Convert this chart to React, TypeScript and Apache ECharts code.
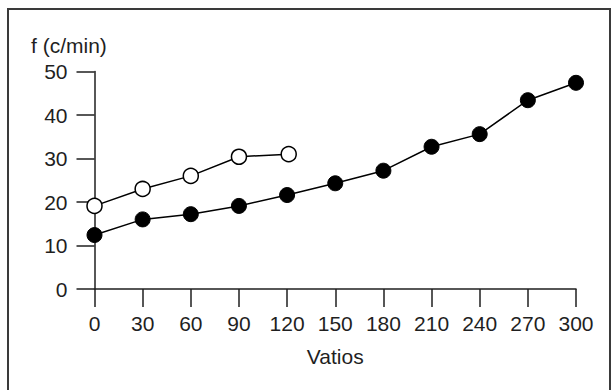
import React, { useEffect, useRef } from "react";
import * as echarts from "echarts";

const watts = [0, 30, 60, 90, 120, 150, 180, 210, 240, 270, 300];
const filledValues = [12.4, 16.0, 17.2, 19.1, 21.6, 24.3, 27.2, 32.7, 35.6, 43.4, 47.4];
const openWatts = [0, 30, 60, 90, 121];
const openValues = [19.1, 23.0, 26.0, 30.4, 31.0];
const yTitle = "f (c/min)";
const xTitle = "Vatios";

const FONT = "Liberation Sans";
const INK = "#1f1f1f";
const FS = 21;

export default function App() {
  const ref = useRef<HTMLDivElement>(null);
  useEffect(() => {
    if (!ref.current) return;
    const chart = echarts.init(ref.current, null, { renderer: "svg" });
    chart.setOption({
      animation: false,
      backgroundColor: "#ffffff",
      title: {
        text: yTitle,
        left: 31,
        top: 35,
        padding: 0,
        textStyle: { fontFamily: FONT, fontSize: FS, fontWeight: "normal", color: INK },
      },
      graphic: [
        {
          type: "rect",
          shape: { x: 8, y: 9, width: 602, height: 420 },
          style: { fill: "none", stroke: "#3a3a3a", lineWidth: 2 },
          silent: true,
        },
      ],
      grid: { left: 94.5, right: 37, top: 71.5, bottom: 101, containLabel: false },
      xAxis: {
        type: "value",
        min: 0,
        max: 300,
        interval: 30,
        name: xTitle,
        nameLocation: "middle",
        nameGap: 57,
        nameTextStyle: { fontFamily: FONT, fontSize: FS, color: INK },
        axisLine: { show: true, lineStyle: { color: INK, width: 1.5 } },
        axisTick: { show: true, inside: false, length: 18, lineStyle: { color: INK, width: 1.5 } },
        axisLabel: { margin: 24, fontFamily: FONT, fontSize: FS, color: INK },
        splitLine: { show: false },
      },
      yAxis: {
        type: "value",
        min: 0,
        max: 50,
        interval: 10,
        axisLine: { show: true, lineStyle: { color: INK, width: 1.5 } },
        axisTick: { show: true, inside: false, length: 18, lineStyle: { color: INK, width: 1.5 } },
        axisLabel: { margin: 27, fontFamily: FONT, fontSize: FS, color: INK },
        splitLine: { show: false },
      },
      series: [
        {
          type: "line",
          data: watts.map((w, i) => [w, filledValues[i]]),
          symbol: "circle",
          symbolSize: 15,
          showAllSymbol: true,
          lineStyle: { color: "#000", width: 1.5 },
          itemStyle: { color: "#000", borderColor: "#000", borderWidth: 1 },
          z: 3,
        },
        {
          type: "line",
          data: openWatts.map((w, i) => [w, openValues[i]]),
          symbol: "circle",
          symbolSize: 15,
          showAllSymbol: true,
          lineStyle: { color: "#000", width: 1.5 },
          itemStyle: { color: "#fff", borderColor: "#000", borderWidth: 1.5 },
          z: 4,
        },
      ],
    });
    return () => chart.dispose();
  }, []);
  return (
    <div
      ref={ref}
      style={{ position: "absolute", left: 0, top: 0, width: 613, height: 390 }}
    />
  );
}
